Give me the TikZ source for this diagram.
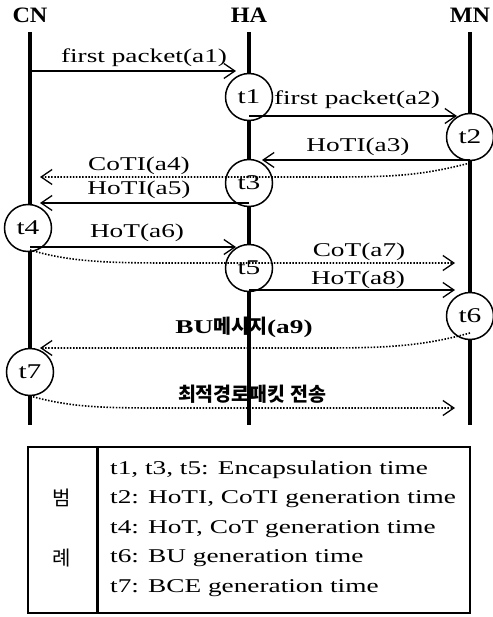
\documentclass[tikz,border=0pt]{standalone}
\usepackage{fontspec}
\setmainfont[FakeStretch=1.4]{Liberation Serif}
\newfontfamily\hdrfont[FakeStretch=1.1]{Liberation Serif}
\newfontfamily\kr{Noto Sans CJK KR}
\usetikzlibrary{arrows.meta}
\begin{document}
\begin{tikzpicture}[x=1pt,y=-1pt,
  life/.style={line width=3.8pt},
  tip/.style={-{Straight Barb[length=11pt,width=15pt,line width=1.3pt]}},
  msg/.style={line width=1.3pt,tip},
  dmsg/.style={line width=1.6pt,dash pattern=on 1.5pt off 1.6pt,tip},
  hdr/.style={font=\hdrfont\fontsize{22}{24}\selectfont\bfseries},
  lbl/.style={font=\fontsize{19.5}{21}\selectfont,inner sep=0pt},
  blbl/.style={font=\fontsize{19.5}{21}\selectfont\bfseries,inner sep=0pt},
  tnode/.style={circle,draw,line width=1.5pt,fill=white,minimum size=47pt,inner sep=0pt,font=\fontsize{21}{23}\selectfont},
  leg/.style={font=\fontsize{19.5}{21}\selectfont,anchor=west,inner sep=0pt}
]
\useasboundingbox (0,0) rectangle (492,617);
% headers
\node[hdr] (cn) at (30,15) {CN};
\node[hdr] (ha) at (249,15) {HA};
\node[hdr] (mn) at (470,15) {MN};
% lifelines
\coordinate (cntop) at (30,32); \coordinate (cnbot) at (30,425);
\coordinate (hatop) at (249,32); \coordinate (habot) at (249,425);
\coordinate (mntop) at (470,32); \coordinate (mnbot) at (470,425);
\draw[life] (cntop) -- (cnbot);
\draw[life] (hatop) -- (habot);
\draw[life] (mntop) -- (mnbot);
% time circles
\node[tnode] (t1) at (249,97) {t1};
\node[tnode] (t2) at (470,137) {t2};
\node[tnode] (t3) at (249,183) {t3};
\node[tnode] (t4) at (28,228) {t4};
\node[tnode] (t5) at (249,268) {t5};
\node[tnode] (t6) at (470,316) {t6};
\node[tnode] (t7) at (30,372) {t7};
% message end points
\coordinate (a1s) at (30,71);   \coordinate (a1e) at (236,71);
\coordinate (a2s) at (249,116); \coordinate (a2e) at (457,116);
\coordinate (a3s) at (470,160); \coordinate (a3e) at (262,160);
\coordinate (a4s) at (470,163); \coordinate (a4e) at (40,177);
\coordinate (a5s) at (249,203); \coordinate (a5e) at (40,203);
\coordinate (a6s) at (30,247);  \coordinate (a6e) at (236,247);
\coordinate (a7s) at (30,250);  \coordinate (a7e) at (455,263);
\coordinate (a8s) at (249,290); \coordinate (a8e) at (455,290);
\coordinate (a9s) at (470,333); \coordinate (a9e) at (40,348);
\coordinate (a10s) at (30,396); \coordinate (a10e) at (455,408);
% messages
\draw[msg] (a1s) -- (a1e);
\draw[msg] (a2s) -- (a2e);
\draw[msg] (a3s) -- (a3e);
\draw[dmsg] (a4s) .. controls (420,176) and (390,177) .. (330,177) -- (a4e);
\draw[msg] (a5s) -- (a5e);
\draw[msg] (a6s) -- (a6e);
\draw[dmsg] (a7s) .. controls (70,262) and (110,263) .. (170,263) -- (a7e);
\draw[msg] (a8s) -- (a8e);
\draw[dmsg] (a9s) .. controls (420,347) and (380,348) .. (320,348) -- (a9e);
\draw[dmsg] (a10s) .. controls (70,407) and (100,408) .. (160,408) -- (a10e);
% labels
\node[lbl] (l1) at (144,58) {first packet(a1)};
\node[lbl] (l2) at (357,100) {first packet(a2)};
\node[lbl] (l3) at (358,147) {HoTI(a3)};
\node[lbl] (l4) at (139,166) {CoTI(a4)};
\node[lbl] (l5) at (139,190) {HoTI(a5)};
\node[lbl] (l6) at (137,233) {HoT(a6)};
\node[lbl] (l7) at (359,252) {CoT(a7)};
\node[lbl] (l8) at (358,280) {HoT(a8)};
\node[blbl] (l9) at (244,327) {BU{\kr\bfseries 메시지}(a9)};
\node[blbl] (l10) at (252,394) {\kr\bfseries 최적경로패킷 전송};
% legend
\draw[line width=1.4pt] (28,447) rectangle (470,613);
\draw[line width=3pt] (97,447) -- (97,613);
\node[font=\kr\fontsize{20}{22}\selectfont] (b1) at (62,498) {범};
\node[font=\kr\fontsize{20}{22}\selectfont] (b2) at (62,558) {례};
\node[leg] (g1) at (110,470) {t1, t3, t5: Encapsulation time};
\node[leg] (g2) at (110,499) {t2: HoTI, CoTI generation time};
\node[leg] (g3) at (110,529) {t4: HoT, CoT generation time};
\node[leg] (g4) at (110,558) {t6: BU generation time};
\node[leg] (g5) at (110,588) {t7: BCE generation time};
\end{tikzpicture}
\end{document}
